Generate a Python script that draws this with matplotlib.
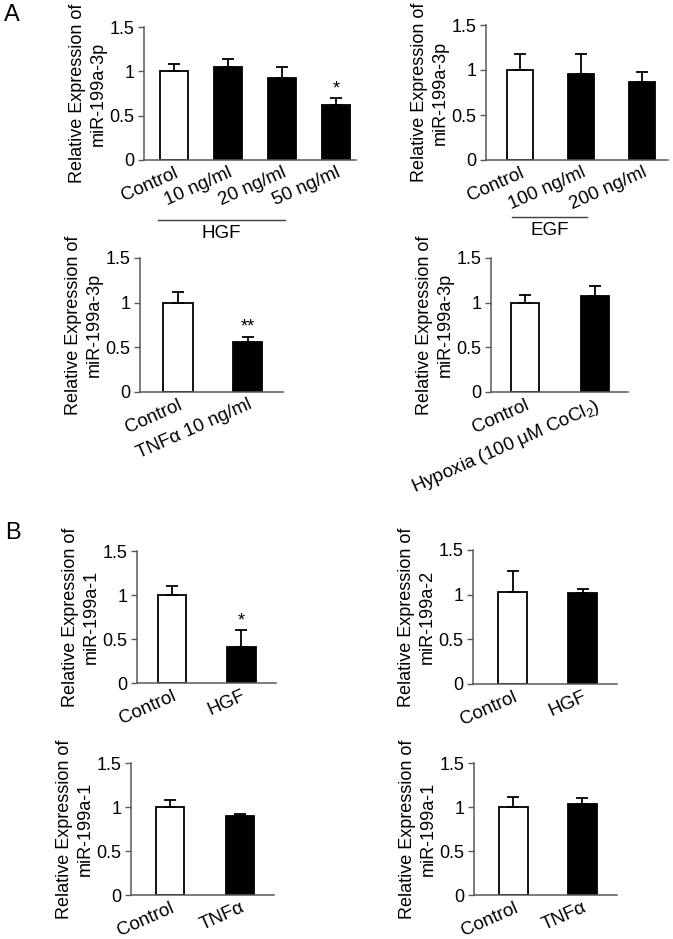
import numpy as np
import matplotlib
matplotlib.use("Agg")
import matplotlib.pyplot as plt
import matplotlib.transforms as mtransforms

plt.rcParams['font.family'] = ['Liberation Sans', 'DejaVu Sans']
plt.rcParams['mathtext.fontset'] = 'custom'
plt.rcParams['mathtext.rm'] = 'Liberation Sans'

# ---------------- data ----------------
a1_labels = ["Control", "10 ng/ml", "20 ng/ml", "50 ng/ml"]
a1_vals = [1.00, 1.05, 0.92, 0.62]
a1_err = [0.08, 0.09, 0.125, 0.08]
a1_sig = ["", "", "", "*"]

a2_labels = ["Control", "100 ng/ml", "200 ng/ml"]
a2_vals = [1.00, 0.955, 0.87]
a2_err = [0.18, 0.225, 0.11]
a2_sig = ["", "", ""]

a3_labels = ["Control", "TNFα 10 ng/ml"]
a3_vals = [1.00, 0.56]
a3_err = [0.12, 0.06]
a3_sig = ["", "**"]

a4_labels = ["Control", "Hypoxia (100 μM CoCl$\\mathregular{_2}$)"]
a4_vals = [1.00, 1.07]
a4_err = [0.085, 0.12]
a4_sig = ["", ""]

b1_labels = ["Control", "HGF"]
b1_vals = [1.00, 0.41]
b1_err = [0.10, 0.19]
b1_sig = ["", "*"]

b2_labels = ["Control", "HGF"]
b2_vals = [1.03, 1.02]
b2_err = [0.23, 0.04]
b2_sig = ["", ""]

b3_labels = ["Control", "TNFα"]
b3_vals = [1.00, 0.895]
b3_err = [0.08, 0.025]
b3_sig = ["", ""]

b4_labels = ["Control", "TNFα"]
b4_vals = [1.00, 1.03]
b4_err = [0.11, 0.07]
b4_sig = ["", ""]

W, H = 673, 939
fig = plt.figure(figsize=(W / 100, H / 100), dpi=100)


def px_axes(left, right, y0, ytop):
    # pixel box -> figure fraction
    return fig.add_axes([left / W, 1 - y0 / H, (right - left) / W, (y0 - ytop) / H])


def bar_panel(box, labels, vals, err, sig, mir, xlim, width):
    ax = px_axes(*box)
    x = np.arange(len(vals))
    colors = ["white"] + ["black"] * (len(vals) - 1)
    ax.bar(x, vals, width=width, color=colors, edgecolor="black", linewidth=1.3, zorder=2)
    ax.errorbar(x, vals, yerr=[np.zeros(len(vals)), err], fmt="none", ecolor="black",
                elinewidth=1.3, capsize=4.5, capthick=1.3, zorder=3)
    for xi, v, e, s in zip(x, vals, err, sig):
        if s:
            ax.text(xi, v + e + 0.01, s, ha="center", va="bottom", fontsize=13)
    ax.set_ylim(0, 1.5)
    ax.set_xlim(*xlim)
    ax.set_yticks([0, 0.5, 1, 1.5])
    ax.set_yticklabels(["0", "0.5", "1", "1.5"])
    ax.set_xticks(x)
    ax.set_xticklabels(labels, rotation=24, ha="right", rotation_mode="anchor")
    offset = mtransforms.ScaledTranslation(7 / 100, 0, fig.dpi_scale_trans)
    for lab in ax.get_xticklabels():
        lab.set_transform(lab.get_transform() + offset)
    ax.tick_params(axis="x", length=0, pad=3, labelsize=13.5)
    ax.tick_params(axis="y", length=4, width=1, color="#595959", labelsize=13, pad=3)
    for sp in ["top", "right"]:
        ax.spines[sp].set_visible(False)
    for sp in ["left", "bottom"]:
        ax.spines[sp].set_color("#595959")
        ax.spines[sp].set_linewidth(1.1)
    ax.set_ylabel("Relative Expression of\n" + mir, fontsize=13, linespacing=1.25, labelpad=2)
    return ax


ax1 = bar_panel((144, 356, 160, 27), a1_labels, a1_vals, a1_err, a1_sig, "miR-199a-3p",
                (-0.556, 3.37), 0.52)
ax2 = bar_panel((486, 668, 160, 25), a2_labels, a2_vals, a2_err, a2_sig, "miR-199a-3p",
                (-0.557, 2.42), 0.43)
ax3 = bar_panel((140, 283, 392, 258), a3_labels, a3_vals, a3_err, a3_sig, "miR-199a-3p",
                (-0.547, 1.51), 0.42)
ax4 = bar_panel((491, 628, 392, 258), a4_labels, a4_vals, a4_err, a4_sig, "miR-199a-3p",
                (-0.486, 1.47), 0.40)
ax5 = bar_panel((137, 276, 683, 551), b1_labels, b1_vals, b1_err, b1_sig, "miR-199a-1",
                (-0.504, 1.50), 0.41)
ax6 = bar_panel((473, 617, 684, 550), b2_labels, b2_vals, b2_err, b2_sig, "miR-199a-2",
                (-0.564, 1.49), 0.41)
ax7 = bar_panel((131, 274, 895, 763), b3_labels, b3_vals, b3_err, b3_sig, "miR-199a-1",
                (-0.557, 1.486), 0.40)
ax8 = bar_panel((474, 617, 895, 763), b4_labels, b4_vals, b4_err, b4_sig, "miR-199a-1",
                (-0.572, 1.50), 0.41)

# treatment group brackets under the x labels
for ax, x0, x1, yl, name in [(ax1, -0.3, 2.05, -0.45, "HGF"), (ax2, -0.13, 1.1, -0.42, "EGF")]:
    tr = mtransforms.blended_transform_factory(ax.transData, ax.transAxes)
    ax.plot([x0, x1], [yl, yl], color="#404040", lw=1, transform=tr, clip_on=False)
    ax.text((x0 + x1) / 2, yl - 0.04, name, transform=tr, ha="center", va="top", fontsize=13.5)

fig.text(12 / W, 1 - 15 / H, "A", fontsize=17, ha="center", va="center")
fig.text(13 / W, 1 - 533 / H, "B", fontsize=17, ha="center", va="center")

fig.savefig("out.png", dpi=100)
